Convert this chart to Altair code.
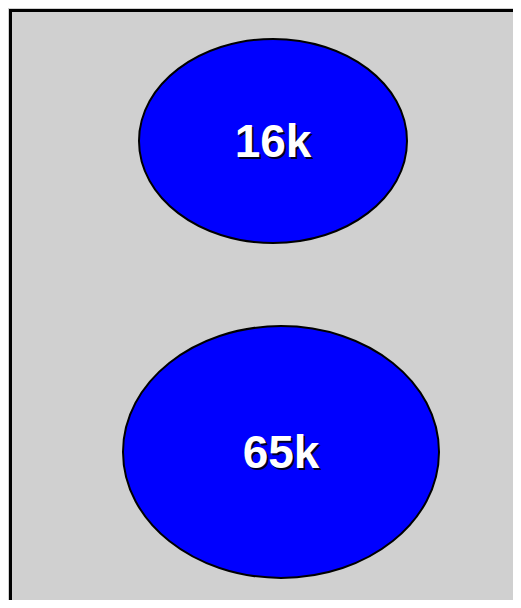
import altair as alt
import pandas as pd

labels = ["16k", "65k"]
values = [16000, 65000]
xpos = [263, 271]
ypos = [131, 442]
shapes = ["M-1,0A1,0.761,0,1,0,1,0A1,0.761,0,1,0,-1,0Z",
          "M-1,0A1,0.797,0,1,0,1,0A1,0.797,0,1,0,-1,0Z"]

df = pd.DataFrame({"label": labels, "value": values, "x": xpos, "y": ypos})

edge = dict(domain=True, domainColor="black", domainWidth=3, domainCap="square",
            ticks=False, labels=False, grid=False, title=None)
xs = alt.X("x:Q", scale=alt.Scale(domain=[0, 503], nice=False), axis=alt.Axis(orient="top", **edge))
ys = alt.Y("y:Q", scale=alt.Scale(domain=[0, 590], reverse=True, nice=False), axis=alt.Axis(orient="left", **edge))

base = alt.Chart(df).encode(x=xs, y=ys)

ell = base.mark_point(filled=True, fill="#0000ff", stroke="black", strokeWidth=2, opacity=1).encode(
    shape=alt.Shape("label:N", scale=alt.Scale(domain=labels, range=shapes), legend=None),
    size=alt.Size("value:Q", scale=alt.Scale(domain=[16000, 65000], range=[71824, 99856], zero=False), legend=None),
)

shadow = base.mark_text(font="Liberation Sans", fontWeight="bold", fontSize=46, color="black", opacity=0.85,
                        dx=2, dy=4, baseline="middle", align="center").encode(text="label:N")
txt = base.mark_text(font="Liberation Sans", fontWeight="bold", fontSize=46, color="white",
                     dy=2, baseline="middle", align="center").encode(text="label:N")

chart = alt.layer(ell, shadow, txt).properties(
    width=503, height=590,
    background="#d0d0d0",
    padding={"left": 2, "top": 2, "right": 0, "bottom": 0},
    autosize=alt.AutoSizeParams(type="none"),
).configure_view(stroke=None)

chart.save("out.html", embed_options={"renderer": "svg", "actions": False})
